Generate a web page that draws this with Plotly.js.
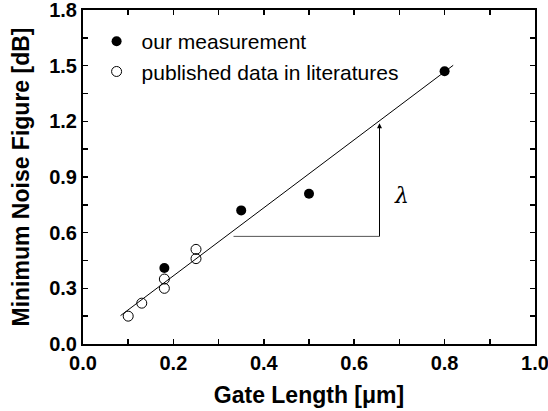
<!DOCTYPE html>
<html><head><meta charset="utf-8">
<script src="https://cdn.plot.ly/plotly-3.0.1.min.js"></script>
<style>body{margin:0;background:#fff}#c{width:548px;height:411px}</style>
</head><body><div id="c"></div>
<script>
// our measurement
const measX = [0.18, 0.35, 0.50, 0.80];
const measY = [0.41, 0.72, 0.81, 1.47];
// published data in literatures
const pubX = [0.10, 0.13, 0.18, 0.18, 0.25, 0.25];
const pubY = [0.15, 0.22, 0.35, 0.30, 0.51, 0.46];
// linear fit line
const fitX = [0.083, 0.819];
const fitY = [0.153, 1.502];
// slope triangle
const triX = [0.333, 0.656, 0.656];
const triY = [0.58, 0.58, 1.19];
const lambdaPos = [0.705, 0.80];
const xTicks = [0.0, 0.2, 0.4, 0.6, 0.8, 1.0];
const yTicks = [0.0, 0.3, 0.6, 0.9, 1.2, 1.5, 1.8];

const F = 'Liberation Sans, Arial, sans-serif';
const traces = [
  {x: fitX, y: fitY, mode: 'lines', line: {color: '#000', width: 1}, showlegend: false, hoverinfo: 'skip'},
  {x: triX.slice(0,2), y: triY.slice(0,2), mode: 'lines', line: {color: '#555', width: 1}, showlegend: false},
  {x: triX.slice(1), y: [triY[1], triY[2]-0.03], mode: 'lines', line: {color: '#000', width: 1}, showlegend: false},
  {x: measX, y: measY, mode: 'markers', name: 'our measurement',
   marker: {symbol: 'circle', size: 10, color: '#000'}},
  {x: pubX, y: pubY, mode: 'markers', name: 'published data in literatures',
   marker: {symbol: 'circle-open', size: 10, color: '#000', line: {width: 1, color: '#000'}}},
  {x: [null], y: [null], xaxis: 'x2', yaxis: 'y2', showlegend: false, mode: 'markers'}
];
const axBase = {
  showgrid: false, zeroline: false, showline: true, linecolor: '#000', linewidth: 2,
  ticks: 'inside', ticklen: 5, tickwidth: 1.5, tickcolor: '#000',
  tickfont: {family: F, size: 20, weight: 'bold', color: '#000'},
  tickformat: '.1f', tickmode: 'array', ticklabeloverflow: 'allow',
  minor: {ticks: 'inside', ticklen: 5, tickwidth: 1.5, tickcolor: '#000'}
};
const xR = [-0.00001, 1.00001], yR = [-0.00002, 1.80002];
const layout = {
  width: 548, height: 411,
  margin: {l: 83, r: 13, t: 10, b: 67},
  paper_bgcolor: '#fff', plot_bgcolor: '#fff',
  font: {family: F, color: '#000'},
  xaxis: Object.assign({}, axBase, {range: xR, tickvals: xTicks,
    minor: Object.assign({}, axBase.minor, {dtick: 0.1}),
    title: {text: 'Gate Length [μm]', font: {family: F, size: 23, weight: 'bold'}, standoff: 14}}),
  yaxis: Object.assign({}, axBase, {range: yR, tickvals: yTicks,
    minor: Object.assign({}, axBase.minor, {dtick: 0.15}),
    title: {text: 'Minimum Noise Figure [dB]', font: {family: F, size: 23, weight: 'bold'}, standoff: 13}}),
  xaxis2: Object.assign({}, axBase, {range: xR, tickvals: xTicks, overlaying: 'x', side: 'top',
    showticklabels: false, minor: Object.assign({}, axBase.minor, {dtick: 0.1})}),
  yaxis2: Object.assign({}, axBase, {range: yR, tickvals: yTicks, overlaying: 'y', side: 'right',
    showticklabels: false, minor: Object.assign({}, axBase.minor, {dtick: 0.15})}),
  legend: {x: 0.019, y: 0.967, xanchor: 'left', yanchor: 'top', bgcolor: 'rgba(0,0,0,0)',
    font: {family: F, size: 21, color: '#000'}, itemwidth: 40, tracegroupgap: 0},
  annotations: [
    {x: triX[2], y: triY[2], ax: triX[2], ay: triY[2]-0.1, axref: 'x', ayref: 'y', xref: 'x', yref: 'y',
     showarrow: true, arrowhead: 2, arrowsize: 1, arrowwidth: 1, arrowcolor: '#000', text: ''},
    {x: lambdaPos[0], y: lambdaPos[1], xref: 'x', yref: 'y', showarrow: false,
     text: '<i>λ</i>', font: {family: 'DejaVu Serif, serif', size: 22, color: '#000'}}
  ],
  showlegend: true
};
Plotly.newPlot('c', traces, layout, {staticPlot: true});
</script></body></html>
